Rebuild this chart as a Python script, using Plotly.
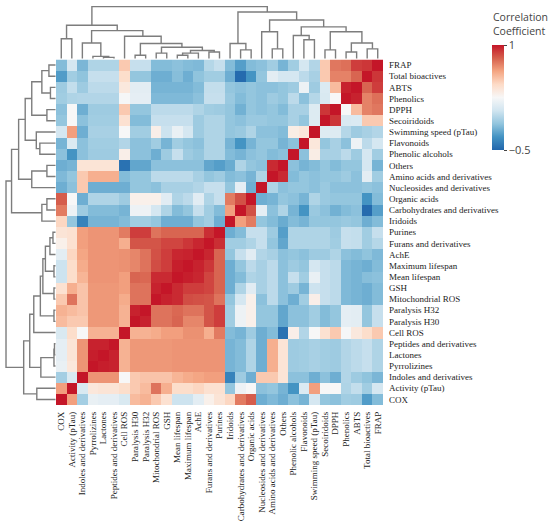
import plotly.graph_objects as go

# variables in row order (top to bottom); columns use the reverse order
labels = ["FRAP", "Total bioactives", "ABTS", "Phenolics", "DPPH", "Secoiridoids",
          "Swimming speed (pTau)", "Flavonoids", "Phenolic alcohols", "Others",
          "Amino acids and derivatives", "Nucleosides and derivatives", "Organic acids",
          "Carbohydrates and derivatives", "Iridoids", "Purines", "Furans and derivatives",
          "AchE", "Maximum lifespan", "Mean lifespan", "GSH", "Mitochondrial ROS",
          "Paralysis H32", "Paralysis H30", "Cell ROS", "Peptides and derivatives",
          "Lactones", "Pyrrolizines", "Indoles and derivatives", "Activity (pTau)", "COX"]
col_labels = labels[::-1]

# row i: correlations with variables 30, 29, ..., i+1 (as read left to right in the row)
corr_upper = [
    [-0.16, 0.08, -0.18, -0.04, -0.04, -0.04, 0.5, 0.03, 0.03, -0.16, -0.16, -0.14, -0.16, -0.17, -0.02,
     0.03, -0.16, -0.27, -0.16, -0.14, -0.08, -0.19, -0.08, 0.08, -0.03, 0.5, 0.75, 0.77, 0.9, 0.92],
    [-0.28, -0.08, -0.13, 0.03, 0.03, 0.03, 0.42, -0.12, -0.12, -0.21, -0.21, -0.15, -0.21, -0.13, -0.08,
     -0.08, -0.21, -0.48, -0.31, -0.12, 0.15, 0.08, 0.08, 0.0, -0.06, 0.5, 0.72, 0.72, 0.8],
    [-0.09, 0.02, -0.09, 0.0, 0.0, 0.0, 0.35, 0.15, 0.15, -0.19, -0.19, -0.19, -0.19, -0.16, 0.02,
     0.02, -0.12, -0.14, -0.12, -0.14, -0.14, -0.12, -0.09, 0.2, -0.09, 0.11, 0.55, 0.97],
    [-0.08, -0.04, -0.03, -0.03, -0.03, -0.03, 0.24, 0.16, 0.16, -0.17, -0.17, -0.17, -0.17, -0.14, 0.03,
     0.03, -0.1, -0.16, -0.12, -0.14, -0.09, -0.12, 0.0, -0.14, -0.02, 0.1, 0.25],
    [-0.14, 0.25, -0.21, -0.09, -0.09, -0.09, 0.5, -0.12, -0.12, 0.0, 0.0, 0.0, 0.0, -0.04, -0.08,
     -0.09, -0.12, -0.2, -0.12, -0.14, -0.12, -0.16, -0.06, -0.06, 0.12, 0.92],
    [-0.12, 0.25, -0.14, -0.08, -0.08, -0.08, 0.4, -0.16, -0.16, 0.03, 0.03, 0.03, 0.03, -0.09, -0.04,
     -0.04, -0.12, -0.14, -0.1, -0.1, -0.12, -0.12, -0.06, -0.12, 0.12],
    [0.08, 0.64, -0.21, -0.06, -0.06, -0.06, 0.25, -0.08, -0.08, 0.31, 0.05, 0.18, 0.08, -0.09, -0.04,
     -0.04, -0.12, -0.1, -0.04, -0.14, -0.14, -0.16, 0.32, 0.36],
    [-0.19, 0.11, -0.14, -0.08, -0.08, -0.08, -0.03, -0.14, -0.14, -0.08, -0.19, -0.08, -0.12, -0.14, -0.04,
     -0.04, -0.19, -0.31, -0.19, -0.12, -0.12, -0.19, -0.14],
    [-0.14, -0.31, -0.14, -0.09, -0.09, -0.09, 0.31, -0.14, -0.14, -0.21, -0.09, 0.03, -0.09, -0.12, -0.04,
     -0.04, -0.16, -0.19, -0.14, -0.12, -0.16, -0.14],
    [-0.21, -0.19, 0.38, 0.38, 0.38, 0.38, -0.45, -0.24, -0.24, -0.14, -0.14, -0.14, -0.14, -0.14, -0.24,
     -0.27, -0.22, -0.04, -0.12, -0.14, 0.95],
    [-0.17, -0.12, 0.5, 0.59, 0.59, 0.59, -0.16, -0.12, -0.12, 0.0, 0.0, 0.0, 0.0, -0.06, -0.12,
     -0.09, -0.16, -0.14, -0.19, -0.04],
    [-0.21, -0.14, 0.5, -0.21, -0.21, -0.21, -0.21, -0.12, -0.12, -0.14, -0.06, -0.06, -0.06, -0.03, 0.03,
     0.03, -0.12, 0.16, -0.21],
    [0.82, 0.25, -0.21, -0.04, -0.04, -0.04, -0.09, 0.3, 0.3, 0.3, 0.14, -0.04, 0.0, 0.14, -0.04,
     0.03, 0.74, 0.85],
    [0.74, 0.2, -0.09, -0.16, -0.16, -0.16, -0.19, 0.2, 0.2, 0.08, -0.04, -0.16, -0.12, 0.03, -0.08,
     -0.16, 0.64],
    [0.45, -0.12, -0.38, -0.19, -0.19, -0.19, -0.16, -0.08, -0.08, -0.12, -0.21, -0.21, -0.21, -0.12, -0.08,
     -0.21],
    [0.38, 0.4, 0.64, 0.67, 0.67, 0.67, 0.74, 0.9, 0.9, 0.76, 0.8, 0.8, 0.8, 0.8, 0.94],
    [0.3, 0.4, 0.64, 0.67, 0.67, 0.67, 0.59, 0.84, 0.84, 0.84, 0.88, 0.88, 0.92, 0.96],
    [0.15, 0.45, 0.62, 0.67, 0.67, 0.67, 0.68, 0.71, 0.76, 0.85, 0.9, 0.96, 0.97],
    [0.05, 0.42, 0.6, 0.67, 0.67, 0.67, 0.68, 0.71, 0.76, 0.86, 0.9, 0.98],
    [0.05, 0.42, 0.57, 0.67, 0.67, 0.67, 0.64, 0.8, 0.79, 0.95, 0.95],
    [0.4, 0.59, 0.52, 0.66, 0.66, 0.66, 0.64, 0.76, 0.76, 0.97],
    [0.5, 0.76, 0.52, 0.66, 0.66, 0.66, 0.6, 0.76, 0.76],
    [0.58, 0.55, 0.52, 0.66, 0.66, 0.66, 0.58, 0.97],
    [0.55, 0.5, 0.5, 0.66, 0.66, 0.66, 0.58],
    [0.1, 0.42, 0.25, 0.58, 0.58, 0.58],
    [0.16, 0.38, 0.67, 0.97, 0.97],
    [0.16, 0.38, 0.67, 0.98],
    [0.18, 0.36, 0.67],
    [-0.07, 0.1],
    [0.64],
]

# dendrogram merges (left, right, height); leaves are display positions, node n+k is merge k
col_links = [(4, 5, 0.02), (3, 31, 0.04), (2, 32, 0.29), (0, 1, 0.37), (7, 8, 0.06),
             (11, 12, 0.06), (36, 13, 0.10), (14, 15, 0.12), (37, 38, 0.15), (9, 10, 0.10),
             (40, 39, 0.21), (35, 41, 0.28), (6, 42, 0.415), (33, 43, 0.52), (34, 44, 0.62),
             (17, 18, 0.16), (16, 46, 0.28), (20, 21, 0.18), (19, 48, 0.50), (23, 24, 0.35),
             (22, 50, 0.43), (25, 26, 0.16), (27, 28, 0.12), (29, 30, 0.18), (53, 54, 0.29),
             (52, 55, 0.50), (51, 56, 0.59), (49, 57, 0.72), (47, 58, 0.87), (45, 59, 0.97)]
row_links = [(0, 1, 0.13), (2, 3, 0.10), (31, 32, 0.27), (4, 5, 0.17), (33, 34, 0.47),
             (7, 8, 0.31), (6, 36, 0.38), (35, 37, 0.60), (9, 10, 0.17), (39, 11, 0.47),
             (38, 40, 0.73), (12, 13, 0.17), (42, 14, 0.27), (41, 43, 0.87), (15, 16, 0.05),
             (45, 17, 0.11), (18, 19, 0.03), (46, 47, 0.20), (20, 21, 0.03), (48, 49, 0.25),
             (22, 23, 0.03), (50, 51, 0.30), (52, 24, 0.43), (25, 26, 0.02), (54, 27, 0.03),
             (55, 28, 0.29), (53, 56, 0.51), (29, 30, 0.37), (57, 58, 0.63), (44, 59, 0.98)]

n = len(labels)
M = [[1.0] * n for _ in range(n)]
for i, vals in enumerate(corr_upper):
    for j, v in enumerate(vals):
        k = n - 1 - j
        M[i][k] = v
        M[k][i] = v
z = [[M[i][n - 1 - c] for c in range(n)] for i in range(n)]


def dendro(links, n_leaves):
    pos = [float(i) for i in range(n_leaves)]
    hgt = [0.0] * n_leaves
    p, h = [], []
    for a, b, d in links:
        p += [pos[a], pos[a], pos[b], pos[b], None]
        h += [hgt[a], d, d, hgt[b], None]
        pos.append((pos[a] + pos[b]) / 2)
        hgt.append(d)
    return p, h


cscale = [[0, "rgb(33,102,172)"], [0.125, "rgb(67,147,195)"], [0.25, "rgb(146,197,222)"],
          [0.375, "rgb(209,229,240)"], [0.5, "rgb(247,247,247)"], [0.625, "rgb(253,219,199)"],
          [0.75, "rgb(244,165,130)"], [0.875, "rgb(214,96,77)"], [1, "rgb(196,22,40)"]]

W, H = 550, 530
fig = go.Figure()
fig.add_trace(go.Heatmap(
    z=z, x=list(range(n)), y=list(range(n)), zmin=-0.5, zmax=1, colorscale=cscale,
    colorbar=dict(
        tickvals=[1, -0.5], ticktext=["1", "−0.5"], ticks="outside", ticklen=3,
        tickfont=dict(family="Open Sans", size=11, color="#444"),
        thickness=12, len=105, lenmode="pixels", x=492 / W, xanchor="left", xpad=0,
        y=1 - 45 / H, yanchor="top", ypad=0, outlinewidth=0),
    hoverinfo="skip"))

cx, cy = dendro(col_links, n)
fig.add_trace(go.Scatter(x=cx, y=cy, mode="lines", xaxis="x2", yaxis="y2",
                         line=dict(color="rgb(125,125,125)", width=1.4), hoverinfo="skip"))
rx, ry = dendro(row_links, n)
fig.add_trace(go.Scatter(x=ry, y=rx, mode="lines", xaxis="x3", yaxis="y3",
                         line=dict(color="rgb(125,125,125)", width=1.4), hoverinfo="skip"))

hx = [56 / W, 383 / W]
hy = [1 - 405 / H, 1 - 59.5 / H]
lab_font = dict(family="Liberation Serif", size=9, color="#222")
fig.update_layout(
    width=W, height=H, margin=dict(l=0, r=0, t=0, b=0),
    paper_bgcolor="white", plot_bgcolor="white", showlegend=False,
    xaxis=dict(domain=hx, range=[-0.5, n - 0.5], tickvals=list(range(n)), ticktext=col_labels,
               tickangle=-90, tickfont=lab_font, ticks="", showgrid=False, zeroline=False,
               ticklabelstandoff=4),
    yaxis=dict(domain=hy, range=[n - 0.5, -0.5], tickvals=list(range(n)), ticktext=labels,
               side="right", tickfont=lab_font, ticks="", showgrid=False, zeroline=False,
               ticklabelstandoff=5),
    xaxis2=dict(domain=hx, range=[-0.5, n - 0.5], visible=False, anchor="y2"),
    yaxis2=dict(domain=[1 - 59 / H, 1 - 5 / H], range=[-0.01, 1], visible=False, anchor="x2"),
    xaxis3=dict(domain=[5 / W, 56 / W], range=[1, -0.01], visible=False, anchor="y3"),
    yaxis3=dict(domain=hy, range=[n - 0.5, -0.5], visible=False, anchor="x3"),
    annotations=[dict(text="Correlation<br>Coefficient", xref="paper", yref="paper",
                      x=491 / W, y=1 - 8 / H, xanchor="left", yanchor="top", align="left",
                      showarrow=False, font=dict(family="Open Sans", size=10.5, color="#444"))],
)

fig.write_html("out.html", config={"displayModeBar": False},
               post_script="document.body.style.margin='0px';")
